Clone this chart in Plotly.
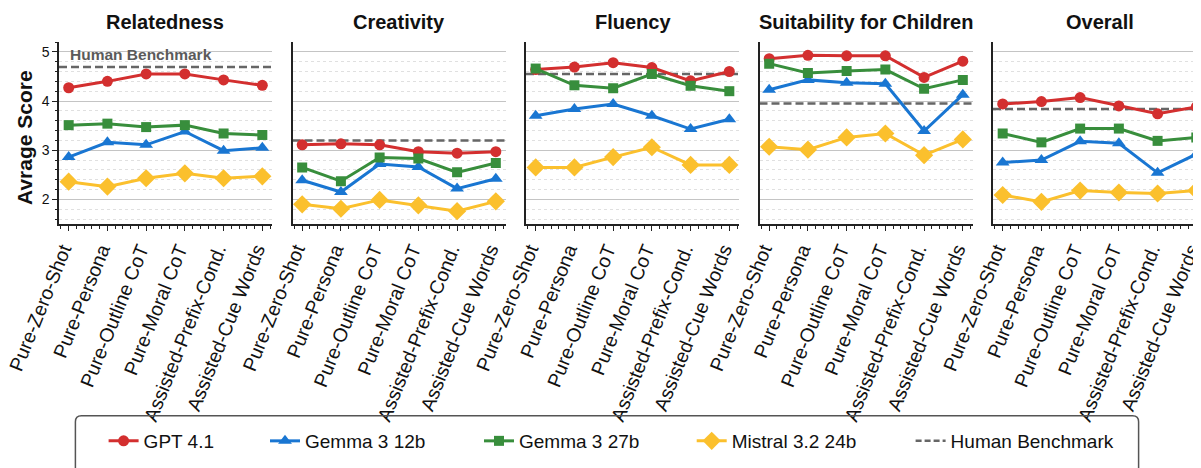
import plotly.graph_objects as go

# ---------------- data ----------------
methods = ["Pure-Zero-Shot", "Pure-Persona", "Pure-Outline CoT", "Pure-Moral CoT",
           "Assisted-Prefix-Cond.", "Assisted-Cue Words"]
dimensions = ["Relatedness", "Creativity", "Fluency", "Suitability for Children", "Overall"]

# one row per dimension (same order as `dimensions`), one value per method
gpt41 = [
    [4.27, 4.40, 4.55, 4.55, 4.43, 4.32],
    [3.11, 3.13, 3.11, 2.97, 2.94, 2.97],
    [4.64, 4.69, 4.78, 4.68, 4.41, 4.60],
    [4.86, 4.93, 4.92, 4.92, 4.48, 4.81],
    [3.94, 3.99, 4.07, 3.90, 3.74, 3.88],
]
gemma3_12b = [
    [2.86, 3.16, 3.11, 3.38, 2.99, 3.05],
    [2.39, 2.15, 2.72, 2.66, 2.22, 2.42],
    [3.70, 3.84, 3.94, 3.70, 3.43, 3.63],
    [4.23, 4.43, 4.37, 4.35, 3.39, 4.13],
    [2.75, 2.80, 3.18, 3.14, 2.54, 2.92],
]
gemma3_27b = [
    [3.51, 3.54, 3.47, 3.51, 3.34, 3.31],
    [2.65, 2.37, 2.85, 2.83, 2.55, 2.74],
    [4.66, 4.32, 4.26, 4.55, 4.31, 4.20],
    [4.76, 4.57, 4.61, 4.64, 4.25, 4.43],
    [3.34, 3.16, 3.44, 3.44, 3.19, 3.26],
]
mistral32_24b = [
    [2.36, 2.26, 2.43, 2.53, 2.43, 2.47],
    [1.90, 1.81, 1.99, 1.88, 1.76, 1.96],
    [2.65, 2.65, 2.86, 3.06, 2.70, 2.70],
    [3.07, 3.01, 3.26, 3.34, 2.90, 3.22],
    [2.09, 1.95, 2.18, 2.14, 2.12, 2.18],
]
human_benchmark = [4.69, 3.20, 4.55, 3.95, 3.84]

model_names = ["GPT 4.1", "Gemma 3 12b", "Gemma 3 27b", "Mistral 3.2 24b"]
model_values = [gpt41, gemma3_12b, gemma3_27b, mistral32_24b]

# ---------------- styles ----------------
OFF = 8                      # page body margin in the browser
W, H = 1201 - OFF, 468 - OFF
FONT = "Liberation Sans, Arial, sans-serif"
colors = ["#D32F2F", "#1976D2", "#388E3C", "#FBC02D"]
symbols = ["circle", "triangle-up", "square", "diamond"]
msizes = [11, 12, 10, 14]
human_color = "#666666"

def px(v):   # reference page pixel -> figure pixel
    return v - OFF

panel_left_px = [59, 292.5, 526, 759.5, 993]
panel_w_px = 213
px_per_unit = panel_w_px / 5.5
top_px, bot_px = 42, 224

legend_text_px = [145.6, 307, 521, 733.7, 952.6]
legend_center_px = 441

fig = go.Figure()

for i, dim in enumerate(dimensions):
    ax = "" if i == 0 else str(i + 1)
    x0 = px(panel_left_px[i])
    x1 = min(x0 + panel_w_px, W)
    xr = [-0.25, -0.25 + (x1 - x0) / px_per_unit]
    for m, name in enumerate(model_names):
        lg = "legend" if m == 0 else "legend%d" % (m + 1)
        fig.add_trace(go.Scatter(
            x=list(range(len(methods))), y=model_values[m][i],
            mode="lines+markers", name=name,
            line=dict(color=colors[m], width=3),
            marker=dict(symbol=symbols[m], size=msizes[m], color=colors[m]),
            xaxis="x" + ax, yaxis="y" + ax,
            showlegend=(i == 0), legend=lg,
        ))
    fig.add_shape(type="line", xref="x" + ax, yref="y" + ax,
                  x0=xr[0], x1=xr[1], y0=human_benchmark[i], y1=human_benchmark[i],
                  line=dict(color=human_color, width=2.5, dash="8px,4px"),
                  layer="between")
    fig.layout["xaxis" + ax] = dict(
        domain=[x0 / W, x1 / W], anchor="y" + ax, range=xr,
        tickmode="array", tickvals=list(range(len(methods))), ticktext=methods,
        tickangle=-68, tickfont=dict(size=19.5, color="#111", family=FONT),
        ticklabelshift=-6, ticklabeloverflow="allow",
        showline=True, linecolor="#222", linewidth=1.5, mirror=False,
        ticks="outside", ticklen=5, tickwidth=1.2, tickcolor="#222",
        showgrid=False, zeroline=False, automargin=False,
        minor=dict(dtick=0.2, tick0=0, ticks="outside", ticklen=3, tickwidth=1,
                   tickcolor="#222", showgrid=False),
    )
    fig.layout["yaxis" + ax] = dict(
        domain=[1 - px(bot_px) / H, 1 - px(top_px) / H], anchor="x" + ax,
        range=[1.5, 5.2], tickvals=[2, 3, 4, 5],
        showticklabels=(i == 0), tickfont=dict(size=14, color="#111", family=FONT),
        showline=True, linecolor="#222", linewidth=1.5, mirror=False,
        ticks="outside" if i == 0 else "", ticklen=5, tickwidth=1.2, tickcolor="#222",
        showgrid=True, gridcolor="#C4C4C4", gridwidth=1, zeroline=False,
        automargin=False,
        minor=dict(dtick=0.2, tick0=0, showgrid=True, gridcolor="#E0E0E0",
                   griddash="dot", gridwidth=1,
                   ticks="outside" if i == 0 else "", ticklen=2.5, tickcolor="#222"),
    )
    fig.add_annotation(text="<b>%s</b>" % dim, xref="paper", yref="paper",
                       x=(x0 + panel_w_px / 2) / W, y=1 - px(22) / H,
                       xanchor="center", yanchor="middle", showarrow=False,
                       font=dict(size=20, color="#111", family=FONT))

# Human benchmark legend entry
fig.add_trace(go.Scatter(x=[None], y=[None], mode="lines", name="Human Benchmark",
                         line=dict(color=human_color, width=2.5, dash="6px,3px"),
                         legend="legend5"))

# Human Benchmark label in first panel
fig.add_annotation(text="<b>Human Benchmark</b>", xref="x", yref="y", x=-0.02, y=4.94,
                   xanchor="left", yanchor="middle", showarrow=False,
                   font=dict(size=15.5, color="#5a5a5a", family=FONT))

# y axis title
fig.add_annotation(text="<b>Avrage Score</b>", xref="paper", yref="paper",
                   x=px(25) / W, y=1 - px(138) / H, textangle=-90, xanchor="center",
                   yanchor="middle", showarrow=False,
                   font=dict(size=21, color="#111", family=FONT))

# legend frame
lx0, lx1 = px(75.4) / W, px(1138.6) / W
ly1, ly0 = 1 - px(415.7) / H, -0.1
rx, ry = 6 / W, 6 / H
fig.add_shape(type="path", xref="paper", yref="paper",
              path=(f"M {lx0},{ly0} L {lx0},{ly1 - ry} Q {lx0},{ly1} {lx0 + rx},{ly1} "
                    f"L {lx1 - rx},{ly1} Q {lx1},{ly1} {lx1},{ly1 - ry} L {lx1},{ly0} Z"),
              line=dict(color="#555555", width=1.5), fillcolor="rgba(0,0,0,0)")

legend_common = dict(orientation="h", xanchor="left", yanchor="middle",
                     y=1 - px(legend_center_px) / H, bgcolor="rgba(0,0,0,0)",
                     borderwidth=0, font=dict(size=19, color="#111", family=FONT))
layout_legends = {}
for k in range(5):
    key = "legend" if k == 0 else "legend%d" % (k + 1)
    layout_legends[key] = dict(legend_common, x=(px(legend_text_px[k]) - 42) / W)

fig.update_layout(
    width=W, height=H, autosize=False,
    margin=dict(l=0, r=0, t=0, b=0),
    paper_bgcolor="white", plot_bgcolor="white",
    font=dict(family=FONT, color="#111"),
    **layout_legends,
)

fig.write_html("out.html")
